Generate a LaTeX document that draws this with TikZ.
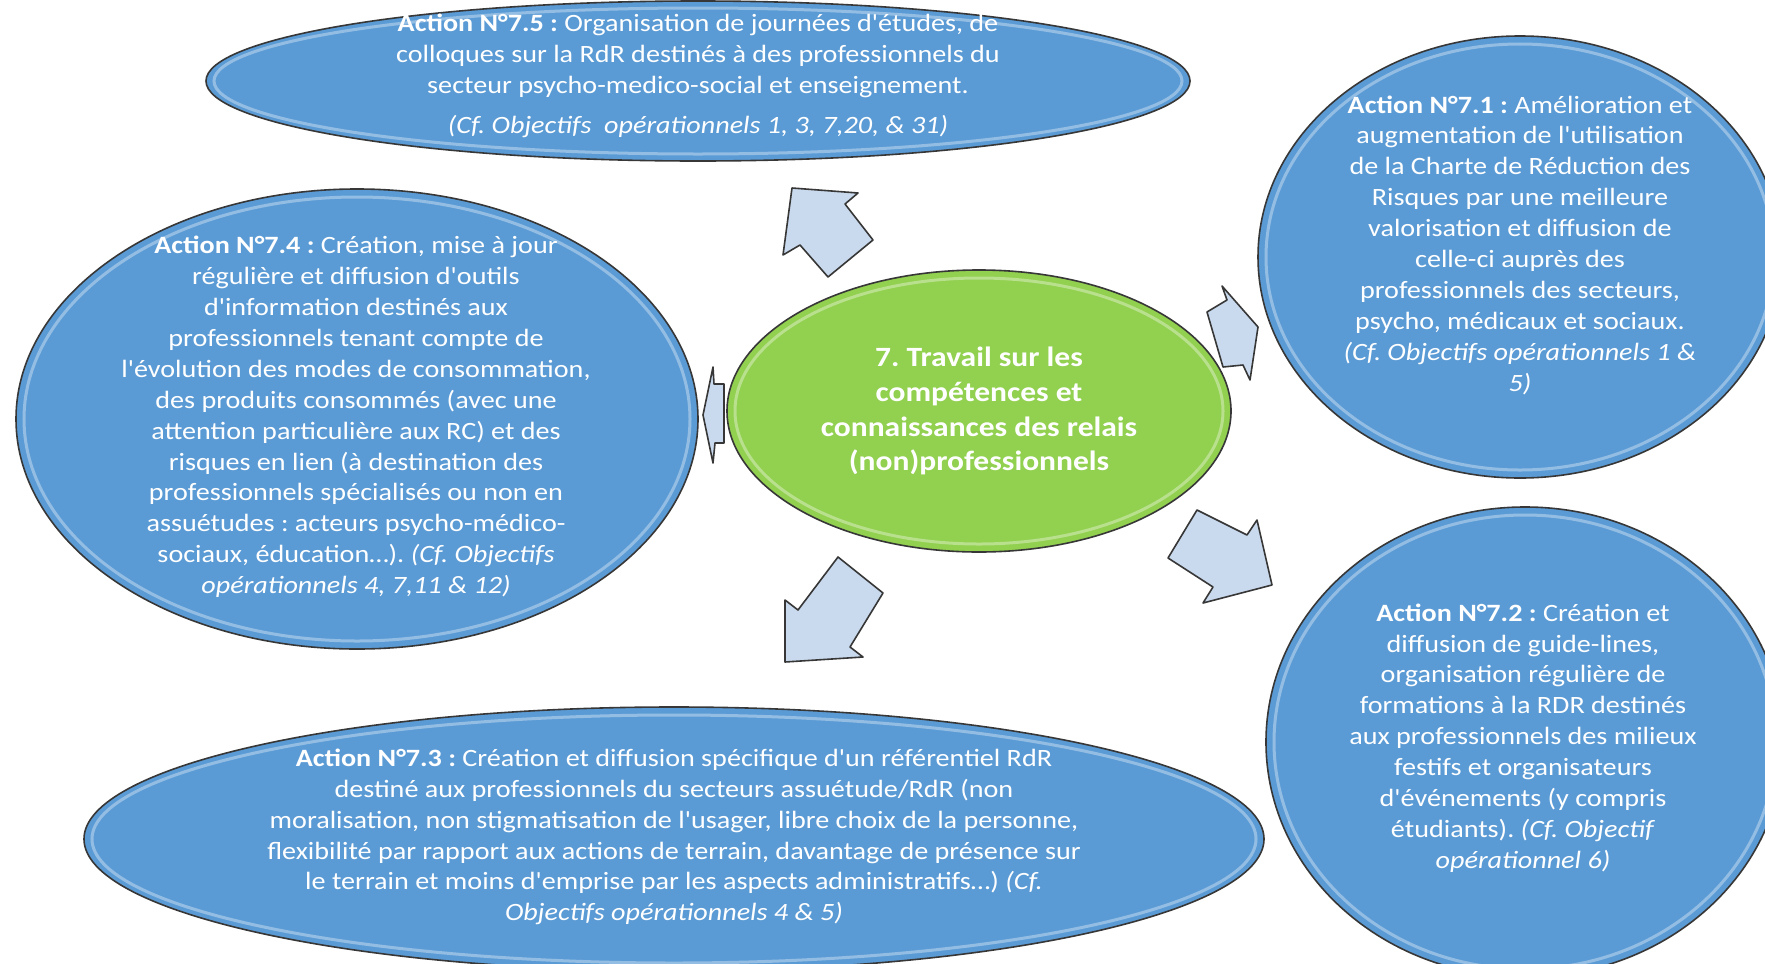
\documentclass[tikz,border=0pt]{standalone}
\usepackage{fontspec}
\setmainfont{Carlito}[FakeStretch=1.13, Ligatures=TeXOff]
\usetikzlibrary{shapes.geometric}
\definecolor{bubble}{RGB}{91,155,213}
\definecolor{centrefill}{RGB}{146,208,80}
\definecolor{arrowfill}{RGB}{202,218,238}
\definecolor{rim}{RGB}{55,55,55}
\tikzset{
  bubble/.style={ellipse, draw=rim, line width=1.6bp, fill=bubble, inner sep=0pt},
  greenbubble/.style={ellipse, draw=rim, line width=1.6bp, fill=centrefill, inner sep=0pt},
  gloss/.style={draw=white, line width=3bp, opacity=0.35},
  txt/.style={text=white, align=center, inner sep=0pt, font=\frenchspacing\fontsize{25}{31}\selectfont},
  centretxt/.style={text=white, align=center, inner sep=0pt, font=\frenchspacing\bfseries\fontsize{28}{35}\selectfont},
  blockarrow/.style={draw=rim, line width=1.6bp, fill=arrowfill, line join=round},
}
\begin{document}
\frenchspacing
\begin{tikzpicture}[x=1bp,y=-1bp]
\useasboundingbox (0,0) rectangle (1765,963);
\clip (0,0) rectangle (1765,963);
\fill[white] (0,0) rectangle (1765,963);

% ellipses
\node[bubble, minimum width=984bp, minimum height=160bp] (e5) at (698,81) {};
\node[bubble, minimum width=682bp, minimum height=460bp] (e4) at (357,419) {};
\node[bubble, minimum width=524bp, minimum height=442bp] (e1) at (1520,257) {};
\node[bubble, minimum width=518bp, minimum height=470bp] (e2) at (1525,742) {};
\node[bubble, minimum width=1180bp, minimum height=264bp] (e3) at (674,839) {};
\node[greenbubble, minimum width=504bp, minimum height=282bp] (ec) at (979,411) {};

% gloss rims
\draw[gloss] (e5.center) ellipse [x radius=484bp, y radius=73bp];
\draw[gloss] (e4.center) ellipse [x radius=333bp, y radius=222bp];
\draw[gloss] (e1.center) ellipse [x radius=254bp, y radius=213bp];
\draw[gloss] (e2.center) ellipse [x radius=251bp, y radius=227bp];
\draw[gloss] (e3.center) ellipse [x radius=582bp, y radius=124bp];
\draw[gloss] (ec.center) ellipse [x radius=244bp, y radius=133bp];

% block arrows
\draw[blockarrow] (792,188) -- (858,193) -- (845,204) -- (873,240) -- (828,277) -- (800,245) -- (783,255) -- cycle;
\draw[blockarrow] (1258,327) -- (1222,286) -- (1227,300) -- (1207,312) -- (1223,367) -- (1243,365) -- (1250,380) -- cycle;
\draw[blockarrow] (1197,510) -- (1247,535) -- (1257,520) -- (1272,585) -- (1203,603) -- (1213,587) -- (1168,558) -- cycle;
\draw[blockarrow] (838,557) -- (883,593) -- (850,647) -- (863,657) -- (785,662) -- (785,600) -- (798,610) -- cycle;
\draw[blockarrow] (724,384) -- (714,384) -- (713,367) -- (703,415) -- (713,463) -- (715,443) -- (724,443) -- cycle;

% texts
\node[txt] (t5) at (698,76) {\textbf{Action N°7.5 :} Organisation de journées d'études, de\\
colloques sur la RdR destinés à des professionnels du\\
secteur psycho-medico-social et enseignement.\\[10bp]
\textit{(Cf. Objectifs\ \ opérationnels 1, 3, 7,20, \& 31)}};

\node[txt] (t4) at (356,417) {\textbf{Action N°7.4 :} Création, mise à jour\\
régulière et diffusion d'outils\\
d'information destinés aux\\
professionnels tenant compte de\\
l'évolution des modes de consommation,\\
des produits consommés (avec une\\
attention particulière aux RC) et des\\
risques en lien (à destination des\\
professionnels spécialisés ou non en\\
assuétudes : acteurs psycho-médico-\\
sociaux, éducation…). \textit{(Cf. Objectifs}\\
\textit{opérationnels 4, 7,11 \& 12)}};

\node[txt] (t1) at (1520,245) {\textbf{Action N°7.1 :} Amélioration et\\
augmentation de l'utilisation\\
de la Charte de Réduction des\\
Risques par une meilleure\\
valorisation et diffusion de\\
celle-ci auprès des\\
professionnels des secteurs,\\
psycho, médicaux et sociaux.\\
\textit{(Cf. Objectifs opérationnels 1 \&}\\
\textit{5)}};

\node[txt] (t2) at (1523,738) {\textbf{Action N°7.2 :} Création et\\
diffusion de guide-lines,\\
organisation régulière de\\
formations à la RDR destinés\\
aux professionnels des milieux\\
festifs et organisateurs\\
d'événements (y compris\\
étudiants). \textit{(Cf. Objectif}\\
\textit{opérationnel 6)}};

\node[txt] (t3) at (674,837) {\textbf{Action N°7.3 :} Création et diffusion spécifique d'un référentiel RdR\\
destiné aux professionnels du secteurs assuétude/RdR (non\\
moralisation, non stigmatisation de l'usager, libre choix de la personne,\\
flexibilité par rapport aux actions de terrain, davantage de présence sur\\
le terrain et moins d'emprise par les aspects administratifs…) \textit{(Cf.}\\
\textit{Objectifs opérationnels 4 \& 5)}};

\node[centretxt] (tc) at (979,411) {7. Travail sur les\\
compétences et\\
connaissances des relais\\
(non)professionnels};
\end{tikzpicture}
\end{document}
